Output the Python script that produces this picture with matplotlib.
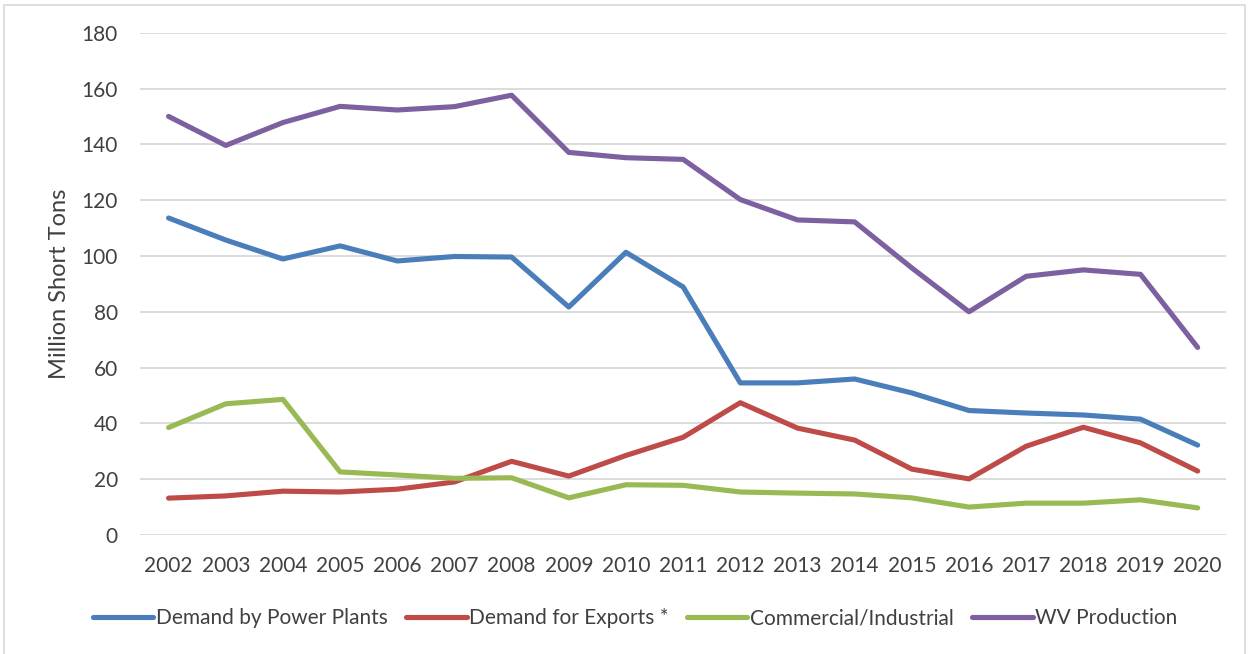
import matplotlib.pyplot as plt
from matplotlib.patches import Rectangle

years = list(range(2002, 2021))

power_plants = [113.6, 105.7, 98.9, 103.6, 98.2, 99.8, 99.6, 81.7, 101.3, 88.9,
                54.5, 54.5, 55.9, 50.9, 44.6, 43.7, 43.0, 41.5, 32.2]
exports = [13.2, 14.0, 15.7, 15.4, 16.4, 19.0, 26.4, 21.1, 28.5, 35.0,
           47.4, 38.3, 34.0, 23.6, 20.1, 31.8, 38.6, 33.0, 22.9]
commercial = [38.5, 47.0, 48.6, 22.6, 21.5, 20.3, 20.5, 13.3, 18.0, 17.8,
              15.4, 15.0, 14.7, 13.3, 10.0, 11.4, 11.4, 12.6, 9.7]
wv_production = [150.0, 139.6, 147.8, 153.6, 152.3, 153.5, 157.6, 137.1, 135.2, 134.6,
                 120.2, 112.9, 112.2, 95.7, 80.0, 92.7, 95.0, 93.4, 67.2]

series = [("Demand by Power Plants", power_plants, "#4a7ebb"),
          ("Demand for Exports *", exports, "#be4b48"),
          ("Commercial/Industrial", commercial, "#98b954"),
          ("WV Production", wv_production, "#7d60a0")]

plt.rcParams['font.family'] = ['Lato', 'DejaVu Sans']

fig = plt.figure(figsize=(12.5, 6.54), dpi=100)
ax = fig.add_axes([0.112, 0.182, 0.869, 0.768])

for name, vals, col in series:
    ax.plot(years, vals, color=col, lw=3.7, label=name, solid_capstyle='round')

ax.set_xlim(2001.5, 2020.5)
ax.set_ylim(0, 180)
ax.set_yticks(range(0, 181, 20))
ax.set_xticks(years)
ax.set_xticklabels([str(y) for y in years])
ax.grid(axis='y', color='#d9d9d9', lw=1.3)
ax.set_axisbelow(True)
for s in ax.spines.values():
    s.set_visible(False)
ax.tick_params(axis='x', length=0, labelsize=15, colors='#404040', pad=15)
ax.tick_params(axis='y', length=0, labelsize=15, colors='#404040', pad=16)
ax.set_ylabel("Million Short Tons", fontsize=17, color='#404040', labelpad=8)

fig.legend(loc='center', bbox_to_anchor=(0.508, 0.055), ncol=4, frameon=False,
           fontsize=15, handlelength=2.9, handletextpad=0.1, columnspacing=0.9,
           labelcolor='#404040')

fig.patches.append(Rectangle((0.003, -0.01), 0.993, 1.002, transform=fig.transFigure,
                             fill=False, edgecolor='#d9d9d9', lw=1.2))

fig.savefig("out.png", dpi=100)
